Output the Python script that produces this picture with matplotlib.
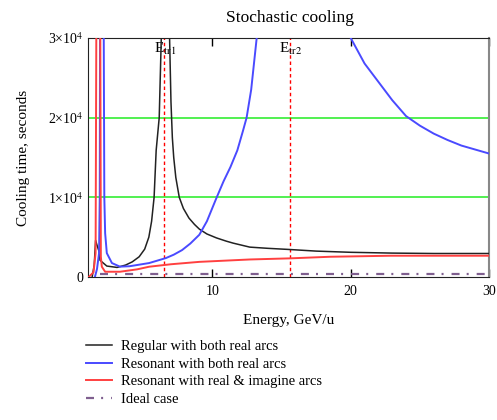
import matplotlib
matplotlib.use('Agg')
import matplotlib.pyplot as plt

plt.rcParams['font.family'] = ['Liberation Serif', 'DejaVu Serif']
plt.rcParams['mathtext.fontset'] = 'stix'

# energy in GeV/u, cooling time in seconds
e_reg = [1.3, 1.45, 1.55, 1.65, 1.8, 1.87, 2.36, 3.1, 3.72, 4.2, 4.7, 5.1, 5.4, 5.6, 5.78,
         5.93, 6.15, 6.3, 6.6, 6.9, 7.0, 7.1, 7.2, 7.35, 7.6, 7.9, 8.3, 8.7, 9.06, 9.6,
         10.3, 11.0, 11.5, 12.7, 14.0, 15.6, 17.5, 20.0, 23.0, 26.0, 30.0]
t_reg = [0, 1500, 4600, 4000, 3200, 2100, 1375, 1200, 1500, 1900, 2540, 3500, 5000, 7000, 10000,
         15900, 20000, 30000, 100000, 30000, 22000, 17500, 15000, 12500, 10000, 8600, 7400, 6600, 6000, 5400,
         4900, 4500, 4250, 3750, 3600, 3450, 3250, 3100, 3000, 2950, 2950]

e_res = [1.5, 1.65, 1.8, 1.85, 1.87, 2.0, 2.14, 2.18, 2.24, 2.36, 2.73, 3.31, 4.0, 5.42, 6.63,
         7.2, 7.8, 8.4, 9.05, 9.6, 10.27, 10.8, 11.3, 11.8, 12.2, 12.47, 12.8, 13.2, 13.6,
         16.5, 19.7, 20.0, 21.0, 22.0, 23.0, 24.0, 25.0, 26.0, 27.0, 28.0, 29.0, 30.0]
t_res = [0, 1000, 3000, 10000, 30000, 100000, 30000, 10000, 5500, 3000, 1750, 1300, 1350, 1750, 2375,
         2800, 3375, 4200, 5300, 7000, 9840, 12000, 13800, 15900, 18300, 20000, 23500, 30000, 40000,
         1000000, 33000, 30000, 26800, 24500, 22200, 20200, 19000, 18000, 17200, 16500, 16000, 15500]

e_img = [1.05, 1.2, 1.4, 1.55, 1.6, 1.75, 1.89, 1.93, 2.0, 2.24, 3.31, 4.55, 5.42, 7.0, 9.05,
         12.7, 15.6, 18.5, 22.9, 30.0]
t_img = [0, 250, 600, 3000, 30000, 100000, 30000, 2540, 1290, 660, 660, 960, 1290, 1600, 1900,
         2200, 2340, 2540, 2670, 2670]

e_ideal = [1.9, 30.0]
t_ideal = [350, 350]

e_tr = [6.5, 15.6]
tr_names = ['tr1', 'tr2']

labels = ['Regular with both real arcs', 'Resonant with both real arcs',
          'Resonant with real & imagine arcs', 'Ideal case']

fig = plt.figure(figsize=(4.97, 4.2), dpi=100)
ax = fig.add_axes([88 / 497, 1 - 277 / 420, 401 / 497, 239 / 420])

ax.set_xlim(1, 30)
ax.set_ylim(0, 30000)

# green horizontal grid lines
for yv in [10000, 20000]:
    ax.axhline(yv, color='#33ee33', lw=1.2, zorder=1)

for e, name in zip(e_tr, tr_names):
    ax.axvline(e, color='red', lw=1, ls=(0, (2.5, 2)), zorder=2)
    ax.annotate('E$_{\\mathrm{' + name + '}}$', xy=(e, 30000), xytext=(-7.5, -2),
                textcoords='offset points', ha='left', va='top', fontsize=11)

l1, = ax.plot(e_reg, t_reg, color='#222222', lw=1.1, zorder=3)
l2, = ax.plot(e_res, t_res, color='#4a4aff', lw=1.4, zorder=3)
l3, = ax.plot(e_img, t_img, color='#ff4040', lw=1.4, zorder=4)
l4, = ax.plot(e_ideal, t_ideal, color='#7f5f8f', lw=1.6, dashes=(3.6, 3.2, 0.9, 3.6), zorder=3)

ax.set_xticks([10, 20, 30])
ax.set_xticklabels(['10', '20', '30'])
ax.set_yticks([0, 10000, 20000, 30000])
ax.set_yticklabels(['0', '1×10$^{4}$', '2×10$^{4}$', '3×10$^{4}$'])
ax.tick_params(axis='x', direction='in', length=6, width=1, top=True, pad=6, labelsize=10)
ax.tick_params(axis='y', direction='in', length=0, pad=3, labelsize=10)

for s in ['left', 'top', 'bottom']:
    ax.spines[s].set_color('#222222')
ax.spines['right'].set_color('#888888')
ax.spines['right'].set_linewidth(1.5)

ax.set_ylabel('Cooling time, seconds', fontsize=11)
ax.yaxis.set_label_coords(-0.145, 0.5)
ax.set_xlabel('Energy, GeV/u', fontsize=11)
ax.xaxis.set_label_coords(0.5, -0.155)

fig.text(290 / 497, 1 - 18 / 420, 'Stochastic cooling', ha='center', va='center', fontsize=12.5)

fig.legend([l1, l2, l3, l4], labels, loc='upper left', bbox_to_anchor=(86 / 497, 1 - 340 / 420),
           frameon=False, fontsize=10.5, handlelength=1.8, handletextpad=0.6,
           labelspacing=0.3, borderaxespad=0, borderpad=0)

fig.savefig('out.png', dpi=100)
